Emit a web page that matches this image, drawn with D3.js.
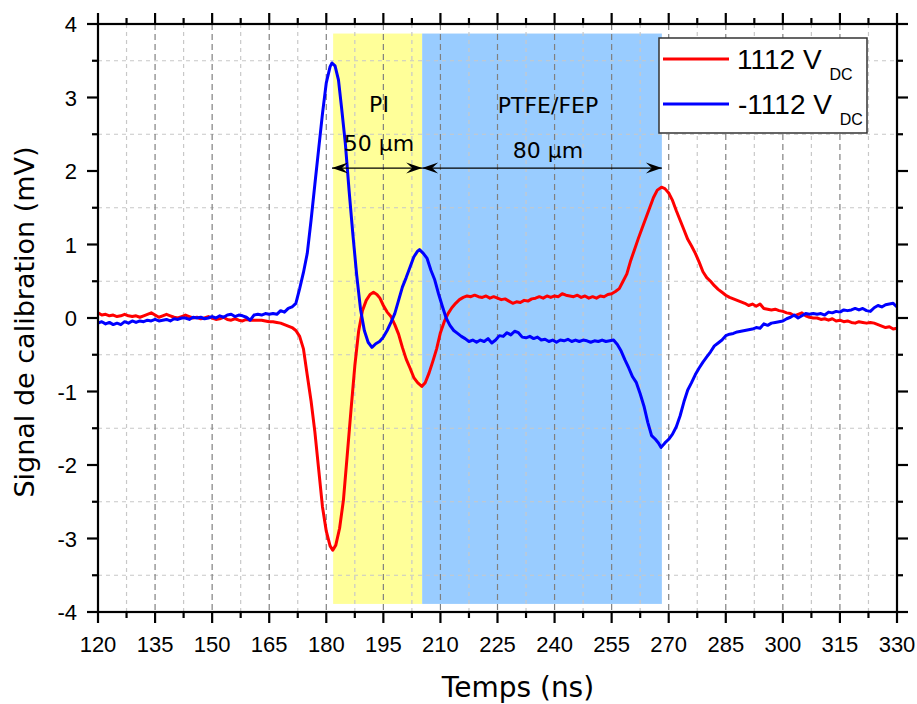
<!DOCTYPE html>
<html><head><meta charset="utf-8">
<script src="https://cdn.jsdelivr.net/npm/d3@7"></script>
<style>body{margin:0;background:#fff}</style>
</head><body>
<svg id="c" width="917" height="704"></svg>
<script>
const xTickValues = [120,135,150,165,180,195,210,225,240,255,270,285,300,315,330];
const yTickValues = [-4,-3,-2,-1,0,1,2,3,4];
const seriesNames = ["1112 V", "-1112 V"];
const regions = [
  {name:"PI", thick:"50 µm", x0:181.8, x1:205.2},
  {name:"PTFE/FEP", thick:"80 µm", x0:205.2, x1:268.2}
];
const redX = [120,121,122,123,124,125,126,127,128,129,130,131,132,133,134,135,136,137,138,139,140,141,142,143,144,145,146,147,148,149,150,151,152,153,154,155,156,157,158,159,160,161,162,163,164,165,166,167,168,169,170,171,172,173,174,175,176,177,178,179,180,181,181.7,182.5,183.5,184.5,185.5,186.5,187.5,188.5,189.5,190.5,191.5,192.4,193.3,194.1,195,196,197,198,199,200,201,202,203,204,205.1,206,207,208,209,210,211,212,213,214,215,216,217,218,219,220,221,222,223,224,225,226,227,228,229,230,231,232,233,234,235,236,237,238,239,240,241,242,243,244,245,246,247,248,249,250,251,252,253,254,255,256,257,258,259,260,261,262,263,264,265,266,267,268.1,269,270,271,272,273,274,275,276,277,278,279,280,281,282,283,284,285,286,287,288,289,290,291,292,293,294,295,296,297,298,299,300,301,302,303,304,305,306,307,308,309,310,311,312,313,314,315,316,317,318,319,320,321,322,323,324,325,326,327,328,329,330];
const redY = [0.07,0.04,0.05,0.03,0.04,0.02,0.03,0.05,0.03,0.02,0.03,0.01,0.03,0.05,0.07,0.04,0.01,0.03,0.05,0.03,0.01,0.0,0.02,0.04,0.02,0.0,0.01,-0.01,0.0,0.02,0.0,-0.02,-0.01,0.01,-0.02,-0.03,-0.01,-0.03,-0.04,-0.02,-0.03,-0.03,-0.03,-0.03,-0.04,-0.05,-0.05,-0.06,-0.07,-0.09,-0.11,-0.13,-0.17,-0.25,-0.42,-0.78,-1.13,-1.55,-2.06,-2.57,-2.9,-3.1,-3.16,-3.09,-2.86,-2.48,-1.87,-1.25,-0.65,-0.18,0.1,0.24,0.32,0.35,0.32,0.27,0.17,0.08,0.02,-0.09,-0.22,-0.4,-0.56,-0.68,-0.81,-0.88,-0.93,-0.88,-0.75,-0.59,-0.42,-0.2,-0.05,0.06,0.14,0.2,0.25,0.28,0.3,0.29,0.31,0.29,0.28,0.3,0.27,0.29,0.27,0.25,0.26,0.23,0.2,0.22,0.21,0.24,0.23,0.26,0.27,0.29,0.27,0.3,0.28,0.3,0.29,0.33,0.31,0.3,0.29,0.31,0.28,0.3,0.27,0.29,0.27,0.3,0.29,0.32,0.33,0.36,0.4,0.5,0.6,0.78,0.93,1.08,1.22,1.36,1.5,1.64,1.74,1.78,1.76,1.7,1.6,1.46,1.33,1.2,1.07,0.98,0.88,0.76,0.63,0.55,0.5,0.44,0.39,0.35,0.31,0.28,0.26,0.24,0.22,0.2,0.17,0.19,0.16,0.19,0.13,0.12,0.11,0.12,0.1,0.09,0.07,0.06,0.03,0.05,0.07,0.03,0.01,0.0,0.0,-0.02,-0.01,-0.03,-0.01,-0.04,-0.03,-0.05,-0.04,-0.06,-0.07,-0.05,-0.06,-0.07,-0.06,-0.07,-0.09,-0.11,-0.13,-0.12,-0.15,-0.14];
const blueX = [120,121,122,123,124,125,126,127,128,129,130,131,132,133,134,135,136,137,138,139,140,141,142,143,144,145,146,147,148,149,150,151,152,153,154,155,156,157,158,159,160,161,162,163,164,165,166,167,168,169,170,171,172,173,174,175,176,177,178,179,180,181,181.5,182.3,183.2,184,185,186,187,188,189,190,191,192,193,194,195,196,197,198,199,200,201,202,203,204,204.5,205.5,206.5,207.5,208.5,209.5,210.5,211.5,212.5,213.5,214.5,215.5,216.5,217.5,218.5,219.5,220.5,221.5,222.5,223.5,224.5,225.5,226.5,227.5,228.5,229.5,230.5,231.5,232.5,233.5,234.5,235.5,236.5,237.5,238.5,239.5,240.5,241.5,242.5,243.5,244.5,245.5,246.5,247.5,248.5,249.5,250.5,251.5,252.5,253.5,254.5,255.5,256.5,257.5,258.5,259.5,260.5,261.5,262.5,263.5,264.5,265.5,266.5,267.3,268,269,270,271,272,273,274,275,276,277,278,279,280,281,282,283,284,285,286,287,288,289,290,291,292,293,294,295,296,297,298,299,300,301,302,303,304,305,306,307,308,309,310,311,312,313,314,315,316,317,318,319,320,321,322,323,324,325,326,327,328,329,330];
const blueY = [-0.07,-0.05,-0.08,-0.06,-0.09,-0.07,-0.09,-0.05,-0.07,-0.04,-0.06,-0.04,-0.05,-0.03,-0.04,-0.02,-0.04,-0.03,-0.02,-0.04,-0.01,-0.02,0.0,0.0,-0.02,0.01,0.0,0.01,-0.01,0.0,0.02,0.0,0.03,0.01,0.04,0.05,0.02,0.04,0.03,0.01,-0.03,0.04,0.05,0.04,0.06,0.05,0.06,0.05,0.1,0.08,0.13,0.15,0.2,0.4,0.62,0.88,1.33,1.82,2.3,2.78,3.2,3.42,3.47,3.43,3.24,2.87,2.38,1.73,1.13,0.58,0.12,-0.17,-0.33,-0.4,-0.35,-0.32,-0.26,-0.17,-0.06,0.06,0.24,0.42,0.55,0.69,0.83,0.91,0.93,0.88,0.81,0.65,0.52,0.33,0.16,0.0,-0.1,-0.17,-0.21,-0.25,-0.28,-0.32,-0.3,-0.33,-0.3,-0.32,-0.28,-0.34,-0.3,-0.24,-0.25,-0.2,-0.23,-0.18,-0.2,-0.26,-0.27,-0.25,-0.28,-0.26,-0.3,-0.29,-0.32,-0.3,-0.33,-0.3,-0.31,-0.29,-0.32,-0.3,-0.32,-0.3,-0.31,-0.33,-0.31,-0.32,-0.3,-0.32,-0.31,-0.3,-0.36,-0.45,-0.57,-0.68,-0.8,-0.88,-1.03,-1.2,-1.42,-1.6,-1.65,-1.7,-1.76,-1.7,-1.65,-1.58,-1.48,-1.33,-1.14,-0.98,-0.88,-0.77,-0.68,-0.6,-0.53,-0.46,-0.38,-0.34,-0.3,-0.24,-0.22,-0.21,-0.19,-0.18,-0.17,-0.16,-0.15,-0.13,-0.14,-0.08,-0.1,-0.07,-0.06,-0.05,-0.04,-0.01,0.01,0.04,0.0,0.03,0.06,0.05,0.06,0.05,0.06,0.04,0.08,0.07,0.09,0.08,0.11,0.1,0.11,0.13,0.11,0.13,0.1,0.09,0.14,0.17,0.15,0.18,0.19,0.2,0.15];

const svg = d3.select("#c");
const L=98, R=897, T=24, B=612;
const x = d3.scaleLinear().domain([120,330]).range([L,R]);
const y = d3.scaleLinear().domain([-4,4]).range([B,T]);

// region fills
const fillTop = 3.87, fillBot = -3.89;
const regionColors = ["#ffff99","#99ccff"];
svg.append("g").selectAll("rect").data(regions).join("rect")
  .attr("x",d=>x(d.x0)).attr("width",d=>x(d.x1)-x(d.x0))
  .attr("y",y(fillTop)).attr("height",y(fillBot)-y(fillTop))
  .attr("fill",(d,i)=>regionColors[i]);

// grid
const g = svg.append("g");
const xMinor = d3.range(127.5,330,15);
const yMinor = d3.range(-3.5,4,1);
g.selectAll(".vmin").data(xMinor).join("line")
  .attr("x1",d=>x(d)).attr("x2",d=>x(d)).attr("y1",T).attr("y2",B)
  .attr("stroke","#c8c8c8").attr("stroke-width",1.2).attr("stroke-dasharray","4,4");
g.selectAll(".hmin").data(yMinor).join("line")
  .attr("y1",d=>y(d)).attr("y2",d=>y(d)).attr("x1",L).attr("x2",R)
  .attr("stroke","#c8c8c8").attr("stroke-width",1.2).attr("stroke-dasharray","4,4");
g.selectAll(".vmaj").data(xTickValues.slice(1,-1)).join("line")
  .attr("x1",d=>x(d)).attr("x2",d=>x(d)).attr("y1",T).attr("y2",B)
  .attr("stroke","#808080").attr("stroke-width",1.2).attr("stroke-dasharray","6,4");

// lines
const line = d3.line().x(d=>x(d[0])).y(d=>y(d[1]));
const redData = redX.map((v,i)=>[v,redY[i]]);
const blueData = blueX.map((v,i)=>[v,blueY[i]]);
svg.append("path").datum(redData).attr("d",line).attr("fill","none")
  .attr("stroke","#ff0000").attr("stroke-width",3).attr("stroke-linejoin","round");
svg.append("path").datum(blueData).attr("d",line).attr("fill","none")
  .attr("stroke","#0000ff").attr("stroke-width",3).attr("stroke-linejoin","round");

// arrows
const arrowY = 2.04;
const arr = svg.append("g");
function head(px, py, dir){ // dir: +1 pointing right, -1 pointing left
  const Lh=16, w=5.5, n=10;
  const p = `M${px},${py} L${px-dir*Lh},${py-w} L${px-dir*n},${py} L${px-dir*Lh},${py+w} Z`;
  arr.append("path").attr("d",p).attr("fill","#000");
}
const arrowEnds = [[181.5,205.2],[205.2,268.2]];
arrowEnds.forEach(([a,b])=>{
  arr.append("line").attr("x1",x(a)).attr("x2",x(b)).attr("y1",y(arrowY)).attr("y2",y(arrowY))
    .attr("stroke","#000").attr("stroke-width",1.2);
  head(x(a),y(arrowY),-1);
  head(x(b),y(arrowY),1);
});
const annFont = "DejaVu Sans, Verdana, sans-serif";
const annCx = [379, 548];
const nameY = [111.5, 113.3];
const thickY = [151, 158];
regions.forEach((d,i)=>{
  svg.append("text").attr("x",annCx[i]).attr("y",nameY[i]).attr("text-anchor","middle")
    .attr("font-family",annFont).attr("font-size",22).text(d.name);
  svg.append("text").attr("x",annCx[i]).attr("y",thickY[i]).attr("text-anchor","middle")
    .attr("font-family",annFont).attr("font-size",22).text(d.thick);
});

// axes frame
const ax = svg.append("g").attr("stroke","#000").attr("stroke-width",2.2);
ax.append("rect").attr("x",L).attr("y",T).attr("width",R-L).attr("height",B-T).attr("fill","none");
const xMinorAll = d3.range(127.5,330,15);
const yMinorAll = d3.range(-3.5,4,1);
const maj=11, mn=6;
xTickValues.forEach(v=>{
  ax.append("line").attr("x1",x(v)).attr("x2",x(v)).attr("y1",B).attr("y2",B+maj);
  ax.append("line").attr("x1",x(v)).attr("x2",x(v)).attr("y1",T).attr("y2",T-maj);
});
xMinorAll.forEach(v=>{
  ax.append("line").attr("x1",x(v)).attr("x2",x(v)).attr("y1",B).attr("y2",B+mn);
  ax.append("line").attr("x1",x(v)).attr("x2",x(v)).attr("y1",T).attr("y2",T-mn);
});
yTickValues.forEach(v=>{
  ax.append("line").attr("y1",y(v)).attr("y2",y(v)).attr("x1",L).attr("x2",L-maj);
  ax.append("line").attr("y1",y(v)).attr("y2",y(v)).attr("x1",R).attr("x2",R+maj);
});
yMinorAll.forEach(v=>{
  ax.append("line").attr("y1",y(v)).attr("y2",y(v)).attr("x1",L).attr("x2",L-mn);
  ax.append("line").attr("y1",y(v)).attr("y2",y(v)).attr("x1",R).attr("x2",R+mn);
});
const tickFont = "Liberation Sans, Arial, sans-serif";
svg.append("g").selectAll("text").data(xTickValues).join("text")
  .attr("x",d=>x(d)).attr("y",652).attr("text-anchor","middle")
  .attr("font-family",tickFont).attr("font-size",22).text(d=>d);
svg.append("g").selectAll("text").data(yTickValues).join("text")
  .attr("x",77).attr("y",d=>y(d)+8).attr("text-anchor","end")
  .attr("font-family",tickFont).attr("font-size",22).text(d=>d);

// axis titles
svg.append("text").attr("x",518).attr("y",697).attr("text-anchor","middle")
  .attr("font-family",annFont).attr("font-size",28).text("Temps (ns)");
svg.append("text").attr("transform","translate(34,322) rotate(-90)").attr("text-anchor","middle")
  .attr("font-family",annFont).attr("font-size",27).text("Signal de calibration (mV)");

// legend
const lg = svg.append("g");
lg.append("rect").attr("x",659).attr("y",38).attr("width",208).attr("height",95)
  .attr("fill","#fff").attr("stroke","#333").attr("stroke-width",1.5);
const legColors = ["#ff0000","#0000ff"];
const legY = [59,104];
seriesNames.forEach((s,i)=>{
  lg.append("line").attr("x1",663).attr("x2",729).attr("y1",legY[i]).attr("y2",legY[i])
    .attr("stroke",legColors[i]).attr("stroke-width",3);
  const t = lg.append("text").attr("x",i===0?737:738).attr("y",legY[i]+10)
    .attr("font-family",tickFont).attr("font-size",28).text(s+" ");
  t.append("tspan").attr("font-size",16).attr("dy",11).text("DC");
});
</script>
</body></html>
